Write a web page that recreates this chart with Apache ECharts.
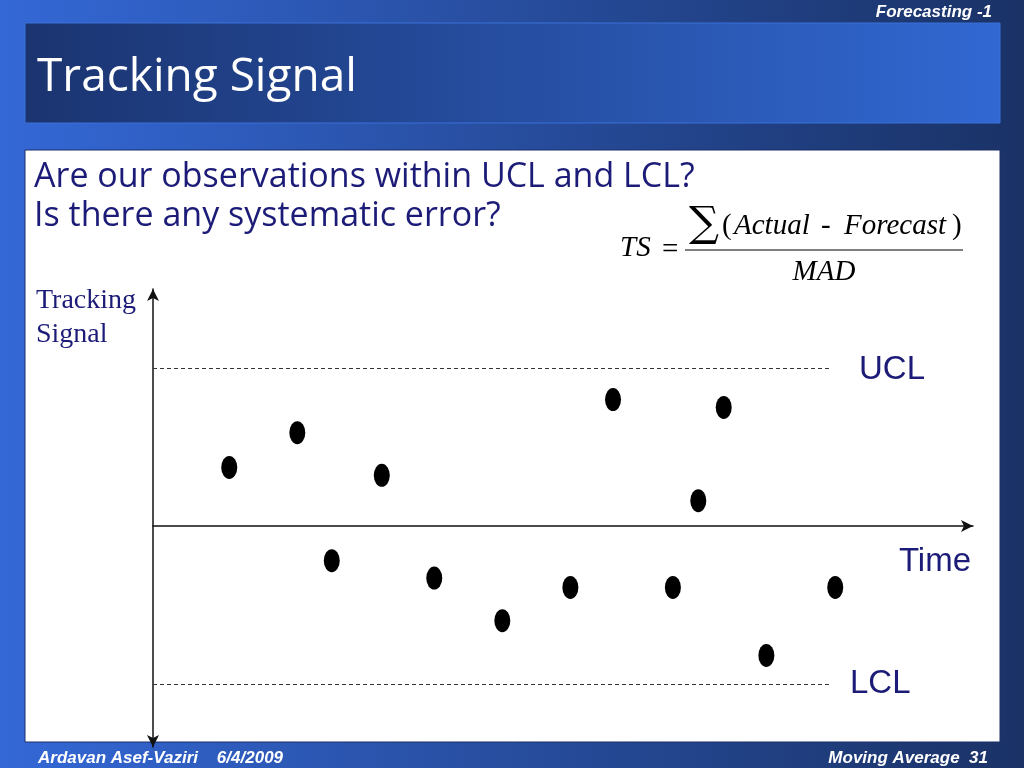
<!DOCTYPE html>
<html><head><meta charset="utf-8">
<script src="https://cdn.jsdelivr.net/npm/echarts@6/dist/echarts.min.js"></script>
<style>html,body{margin:0;padding:0;}#c{width:1024px;height:768px;}</style>
</head><body><div id="c"></div>
<script>
// Time positions (arbitrary units) and tracking-signal values (UCL = +1, LCL = -1)
const times = [9.3, 17.6, 21.8, 27.9, 34.3, 42.6, 50.9, 56.1, 63.4, 66.5, 69.6, 74.8, 83.2];
const tsValues = [0.37, 0.59, -0.22, 0.32, -0.33, -0.60, -0.39, 0.80, -0.39, 0.16, 0.75, -0.82, -0.39];
const UCL = 1;
const LCL = -1;
const limitEnd = 82.8;

const navy = '#1c1c78';
const chart = echarts.init(document.getElementById('c'));
const grad = (c0, c1) => new echarts.graphic.LinearGradient(0, 0, 1, 0, [{offset: 0, color: c0}, {offset: 1, color: c1}]);
const serif = '"Liberation Serif", serif';
const footFont = 'italic bold 17px "Liberation Sans", sans-serif';

chart.setOption({
  animation: false,
  grid: {left: 153, right: 51, top: 289, bottom: 21},
  xAxis: {
    type: 'value', min: 0, max: 100,
    axisLine: {onZero: true, symbol: ['none', 'arrow'], symbolSize: [9, 12], lineStyle: {color: '#111', width: 1.5}},
    axisTick: {show: false}, axisLabel: {show: false}, splitLine: {show: false}
  },
  yAxis: {
    type: 'value', min: -1.4, max: 1.5,
    axisLine: {show: true, onZero: true, symbol: ['arrow', 'arrow'], symbolSize: [9, 12], lineStyle: {color: '#111', width: 1.5}},
    axisTick: {show: false}, axisLabel: {show: false}, splitLine: {show: false}
  },
  series: [{
    type: 'scatter',
    data: times.map((t, i) => [t, tsValues[i]]),
    symbol: 'circle', symbolSize: [16, 23],
    itemStyle: {color: '#000', opacity: 1},
    z: 5,
    markLine: {
      silent: true, symbol: ['none', 'none'],
      lineStyle: {type: [4, 3], color: '#333', width: 1},
      label: {show: false},
      data: [
        [{coord: [0, UCL]}, {coord: [limitEnd, UCL]}],
        [{coord: [0, LCL]}, {coord: [limitEnd, LCL]}]
      ]
    }
  }],
  graphic: [
    {type: 'rect', z: -100, shape: {x: 0, y: 0, width: 1024, height: 768}, style: {fill: grad('#3468d6', '#1a3266')}},
    {type: 'rect', z: -99, shape: {x: 25, y: 23, width: 975, height: 100}, style: {fill: grad('#1b3470', '#3168d2'), stroke: '#3a70d8', lineWidth: 1}},
    {type: 'rect', z: -99, shape: {x: 25, y: 150, width: 975, height: 592}, style: {fill: '#ffffff', stroke: '#1a2f66', lineWidth: 1}},
    {type: 'text', z: 100, style: {text: 'Forecasting -1', x: 992, y: 12, align: 'right', verticalAlign: 'middle', fill: '#fff', font: footFont}},
    {type: 'text', z: 100, style: {text: 'Tracking Signal', x: 37, y: 78, verticalAlign: 'middle', fill: '#fff', font: '46px "Open Sans", sans-serif'}},
    {type: 'text', z: 100, style: {text: 'Are our observations within UCL and LCL?', x: 34, y: 177, verticalAlign: 'middle', fill: navy, font: '34px "Open Sans", sans-serif'}},
    {type: 'text', z: 100, style: {text: 'Is there any systematic error?', x: 34, y: 216, verticalAlign: 'middle', fill: navy, font: '34px "Open Sans", sans-serif'}},
    {type: 'text', z: 100, style: {text: 'TS', x: 620, y: 248, verticalAlign: 'middle', fill: '#000', font: 'italic 29px ' + serif}},
    {type: 'text', z: 100, style: {text: '=', x: 662, y: 250, verticalAlign: 'middle', fill: '#000', font: '29px ' + serif}},
    {type: 'text', z: 100, style: {text: '\u2211', x: 689, y: 225, verticalAlign: 'middle', fill: '#000', font: '42px "DejaVu Serif", serif'}},
    {type: 'text', z: 100, style: {text: '(', x: 722, y: 226, verticalAlign: 'middle', fill: '#000', font: '29px ' + serif}},
    {type: 'text', z: 100, style: {text: 'Actual', x: 734, y: 226, verticalAlign: 'middle', fill: '#000', font: 'italic 29px ' + serif}},
    {type: 'text', z: 100, style: {text: '-', x: 821, y: 226, verticalAlign: 'middle', fill: '#000', font: '29px ' + serif}},
    {type: 'text', z: 100, style: {text: 'Forecast', x: 844, y: 226, verticalAlign: 'middle', fill: '#000', font: 'italic 29px ' + serif}},
    {type: 'text', z: 100, style: {text: ')', x: 952, y: 226, verticalAlign: 'middle', fill: '#000', font: '29px ' + serif}},
    {type: 'line', z: 100, shape: {x1: 685, y1: 250, x2: 963, y2: 250}, style: {stroke: '#000', lineWidth: 1.2}},
    {type: 'text', z: 100, style: {text: 'MAD', x: 824, y: 272, align: 'center', verticalAlign: 'middle', fill: '#000', font: 'italic 29px ' + serif}},
    {type: 'text', z: 100, style: {text: 'Tracking\nSignal', x: 36, y: 318, verticalAlign: 'middle', lineHeight: 34, fill: navy, font: '28px ' + serif}},
    {type: 'text', z: 100, style: {text: 'UCL', x: 859, y: 370, verticalAlign: 'middle', fill: navy, font: '33px "Liberation Sans", sans-serif'}},
    {type: 'text', z: 100, style: {text: 'Time', x: 971, y: 562, align: 'right', verticalAlign: 'middle', fill: navy, font: '33px "Liberation Sans", sans-serif'}},
    {type: 'text', z: 100, style: {text: 'LCL', x: 850, y: 684, verticalAlign: 'middle', fill: navy, font: '33px "Liberation Sans", sans-serif'}},
    {type: 'text', z: 100, style: {text: 'Ardavan Asef-Vaziri    6/4/2009', x: 38, y: 758, verticalAlign: 'middle', fill: '#fff', font: footFont}},
    {type: 'text', z: 100, style: {text: 'Moving Average  31', x: 988, y: 758, align: 'right', verticalAlign: 'middle', fill: '#fff', font: footFont}}
  ]
});
</script></body></html>
